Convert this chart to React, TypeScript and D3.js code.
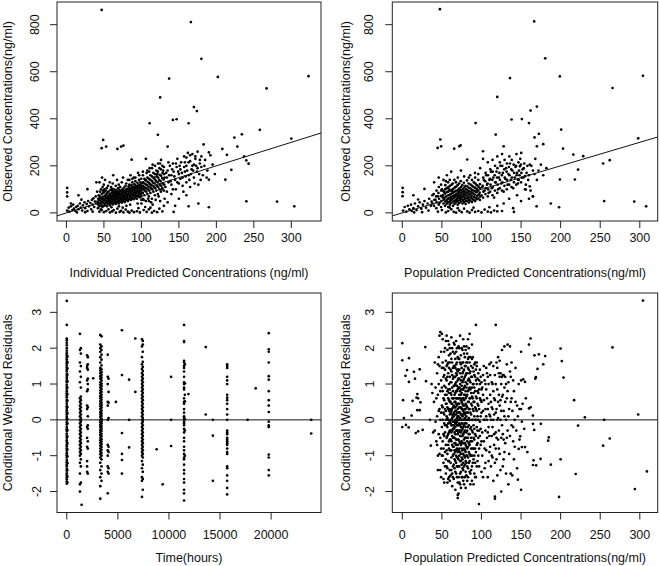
import React from 'react';
import * as d3 from 'd3';

type Pt = [number, number];

// ---------- tick labels ----------
const concTicks = [0, 50, 100, 150, 200, 250, 300];
const obsTicks = [0, 200, 400, 600, 800];
const timeTicks = [0, 5000, 10000, 15000, 20000];
const cwresTicks = [-2, -1, 0, 1, 2, 3];

// ---------- panel 1: IPRED vs observed ----------
const ipredObsOutliers: Pt[] = [
  [47,863],[166,811],[180,655],[202,578],[137,571],[323,581],[267,529],[125,491],[170,450],[174,433],
  [142,395],[147,398],[163,381],[111,381],[258,353],[234,334],[224,320],[300,316],[122,332],[135,282],
  [183,291],[208,272],[228,282],[214,247],[237,240],[240,223],[243,209],[190,257],[212,141],[220,183],
  [190,141],[240,49],[281,48],[304,28],[190,24],[176,40],[163,28],[143,4],[49,310],[53,282],[47,275],
  [68,272],[73,282],[76,286],[87,226],[1,106],[1,87],[1,70],[16,75],[28,101],[20,56],
  [160,235],[165,245],[172,240],[178,225],[168,200],[175,190],[158,215]
];
const ipredObsLow: Pt[] = [
  [1,10],[3,22],[4,5],[6,28],[8,12],[9,35],[10,18],[12,8],[13,25],[15,30],[16,15],[18,40],[19,22],
  [21,10],[22,32],[24,45],[25,20],[27,38],[28,8],[29,50],[30,28],[32,42],[33,15],[34,55],[35,35],
  [36,62],[37,25],[38,48],[39,70],[40,40],[41,90],[40,130],[35,5],[25,3],[14,2],[6,40]
];
const ipredObsBottom: Pt[] = [
  [44,5],[47,12],[50,3],[53,8],[56,15],[58,2],[61,6],[63,12],[66,1],[68,18],[71,4],[73,9],[76,2],
  [79,14],[82,5],[84,1],[87,10],[90,3],[94,7],[98,2],[103,12],[107,4],[110,15],[114,1],[117,8],
  [121,3],[124,18],[128,6],[112,22],[96,20],[75,22],[60,24]
];
const ipredObsCore: Pt[] = [
  [42,20],[42.6,35],[41.5,48],[42.3,60],[43,75],
  [44,28],[44.7,42],[43.8,55],[44.4,70],[45,90],[44.2,130],
  [46,15],[46.5,38],[45.7,50],[46.3,62],[47,80],[46.1,100],
  [48,25],[48.6,45],[47.7,58],[48.3,68],[49,85],[48.2,110],[47.5,150],
  [50,30],[50.5,40],[49.6,52],[50.3,60],[51,72],[50.1,88],[50.7,100],[49.8,120],
  [52,35],[52.6,47],[51.7,56],[52.4,65],[53,78],[52.2,95],[51.5,140],
  [54,28],[54.5,42],[53.6,50],[54.3,62],[55,70],[54.2,84],[53.8,105],
  [56,38],[56.6,48],[55.7,55],[56.4,66],[57,75],[56.2,90],[55.5,115],
  [58,32],[58.5,44],[57.6,53],[58.3,60],[59,70],[58.1,80],[58.7,98],[57.8,130],
  [60,40],[60.6,50],[59.7,58],[60.4,65],[61,74],[60.2,85],[60.8,95],[59.5,110],
  [62,36],[62.5,46],[61.6,55],[62.3,63],[63,72],[62.1,82],[62.7,92],[61.8,125],[62.4,160],
  [64,42],[64.6,52],[63.7,60],[64.4,68],[65,78],[64.2,88],[63.9,100],
  [66,38],[66.5,48],[65.6,57],[66.3,66],[67,75],[66.1,84],[66.8,96],[65.8,115],
  [68,45],[68.6,55],[67.7,62],[68.4,70],[69,80],[68.2,90],[68.8,105],[67.5,140],
  [70,40],[70.5,50],[69.6,60],[70.3,68],[71,76],[70.1,86],[70.7,98],[69.8,120],
  [72,48],[72.6,58],[71.7,65],[72.4,74],[73,82],[72.2,92],[71.8,110],
  [74,44],[74.5,54],[73.6,63],[74.3,72],[75,80],[74.1,90],[74.7,100],[73.8,130],
  [76,50],[76.6,60],[75.7,70],[76.4,78],[77,88],[76.2,96],[76.8,108],[75.5,150],
  [78,46],[78.5,56],[77.6,66],[78.3,75],[79,85],[78.1,95],[78.7,115],
  [80,55],[80.6,64],[79.7,72],[80.4,82],[81,92],[80.2,102],[79.8,125],
  [82,50],[82.5,60],[81.6,70],[82.3,80],[83,90],[82.1,100],[82.7,112],[81.8,140],
  [84,58],[84.6,68],[83.7,78],[84.4,88],[85,98],[84.2,108],[83.9,120],
  [86,55],[86.5,65],[85.6,75],[86.3,85],[87,95],[86.1,105],[86.8,118],[85.5,160],
  [88,62],[88.6,72],[87.7,82],[88.4,92],[89,102],[88.2,112],[87.8,130],
  [90,58],[90.5,70],[89.6,80],[90.3,90],[91,100],[90.1,110],[90.7,122],[89.8,150],
  [92,65],[92.6,76],[91.7,86],[92.4,96],[93,106],[92.2,116],[91.9,135],
  [94,60],[94.5,72],[93.6,84],[94.3,94],[95,104],[94.1,114],[94.7,128],
  [96,70],[96.6,80],[95.7,90],[96.4,100],[97,110],[96.2,120],[96.8,140],[95.5,170],
  [98,66],[98.5,78],[97.6,88],[98.3,98],[99,108],[98.1,118],[98.7,130],
  [100,72],[100.6,84],[99.7,94],[100.4,104],[101,114],[100.2,125],[99.8,145]
];
const ipredObsUpper: Pt[] = [
  [102,60],[102,85],[102.5,100],[101.8,115],[102.3,130],[102,160],
  [104,75],[104.4,95],[103.7,110],[104.2,125],[104,145],
  [106,50],[106.5,90],[105.6,105],[106.2,120],[106,138],[106,230],
  [108,80],[108.4,100],[107.7,118],[108.3,132],[108,150],
  [110,70],[110.5,95],[109.6,112],[110.2,128],[110,145],[110.4,175],
  [112,85],[112.4,105],[111.7,122],[112.2,140],[112,160],
  [114,60],[114.5,100],[113.6,118],[114.3,135],[114,155],[114.2,190],
  [116,90],[116.4,110],[115.7,128],[116.2,148],[116,170],
  [118,75],[118.5,105],[117.6,125],[118.3,142],[118,165],[118.2,200],
  [120,95],[120.4,115],[119.7,135],[120.2,155],[120,180],
  [122,80],[122.5,110],[121.6,130],[122.3,150],[122,175],[122.2,210],
  [124,100],[124.4,120],[123.7,140],[124.2,162],[124,190],
  [126,90],[126.5,115],[125.6,135],[126.3,158],[126,185],[126.2,225],
  [128,105],[128.4,125],[127.7,148],[128.2,170],[128,200],
  [130,95],[130.5,120],[129.6,142],[130.3,165],[130,195],
  [132,110],[134,150],[135,180],[136,130],[138,200],[140,160],[140,120],[142,210],[143,175],[145,140],
  [146,100],[147,195],[148,230],[150,165],[150,125],[152,185],[153,215],[155,150],[156,90],[157,240],
  [158,175],[160,200],[160,130],[162,255],[163,160],[165,220],[165,110],[167,185],[168,250],[170,205],
  [170,150],[172,230],[174,175],[175,260],[176,120],[178,210],[180,195],[180,240],[182,160],[185,225],
  [188,180],[192,245],[195,205],[198,165],[140,80],[150,60],[160,75],[135,45],[145,30],[125,50],[130,30]
];
const ipredObsExtra: Pt[] = [
  [100,40],[103,55],[105,140],[107,170],[109,60],[111,190],[113,45],[115,205],[117,150],[119,55],
  [121,165],[123,70],[125,210],[127,100],[129,180],[131,60],[131,150],[133,170],[134,90],[136,215],
  [137,160],[139,135],[141,185],[142,100],[144,155],[146,210],[148,130],[149,175],[151,200],[152,145],
  [154,170],[155,115],[157,195],[159,155],[161,180],[163,215],[164,140],[166,165],[169,180],[171,125],
  [173,200],[177,165],[179,140],[184,200],[187,150],[105,25],[115,35],[95,40],[85,35],[80,30],[70,28],
  [100,55],[110,50],[92,150],[102,175],[108,180],[97,160],[88,145],[84,140],
  [43,40],[45,65],[47,30],[49,95],[51,58],[53,45],[55,88],[57,62],[59,48],[61,102],[63,56],[65,90]
];

// ---------- panel 2: PRED vs observed ----------
const predObsOutliers: Pt[] = [
  [47.5,866],[166.6,814],[180.5,657],[199,580],[136,573],[304,583],[265.5,531],[120,493],[170,452],[162,435],
  [138,397],[151,399],[160,382],[92.6,382],[200.7,354],[172.5,336],[167,321],[298,317],[118,333],[128,283],
  [178,292],[203,273],[170,283],[216,248],[228.5,241],[262,224],[253.7,210],[222,184],[218,142],[199,142],
  [255,50],[293,48],[308,28],[198,24],[187.6,40],[169.6,28],[141,4],[48,312],[49,283],[44.6,276],
  [65.6,273],[72,283],[73.6,287],[82,227],[0.5,106],[0.5,88],[0.3,71],[14,75],[28,102],[20,57],
  [161,113],[165,70],[156,99],[146,142],[155,156],[161,205],[148.5,198],[102,262]
];
const predObsLow: Pt[] = [
  [1,10],[3,25],[5,5],[7,30],[9,15],[11,35],[12,8],[14,20],[16,40],[18,12],[20,28],[22,45],[24,18],
  [26,35],[28,50],[30,22],[32,40],[34,60],[36,30],[38,75],[37,48],[33,10],[25,3],[15,2]
];
const predObsBottom: Pt[] = [
  [45,5],[50,12],[55,2],[58,8],[62,15],[65,4],[68,1],[72,10],[75,3],[78,18],[82,6],[85,1],[88,12],
  [92,4],[96,8],[100,2],[104,14],[108,5],[112,2],[116,10],[120,6],[60,22],[70,20],[90,22],[110,24],[126,8]
];
const predObsCore: Pt[] = [
  [40,30],[40.5,55],[39.6,80],[40.2,130],
  [43,20],[43.4,45],[42.7,70],[43.2,95],
  [46,35],[46.5,60],[45.6,85],[46.2,110],[46,150],
  [49,25],[49.4,50],[48.7,72],[49.2,95],[49,120],
  [52,40],[52.5,58],[51.6,76],[52.2,92],[52,140],
  [54,30],[54.4,48],[53.7,65],[54.2,82],[54,100],[54.3,118],
  [56,38],[56.5,55],[55.6,70],[56.2,88],[56,105],[56.3,160],
  [58,25],[58.4,45],[57.7,60],[58.2,75],[58,90],[58.3,110],[57.8,130],
  [60,35],[60.5,50],[59.6,64],[60.2,78],[60,95],[60.3,115],
  [62,42],[62.4,56],[61.7,68],[62.2,82],[62,98],[62.3,120],[61.8,175],
  [64,30],[64.5,48],[63.6,60],[64.2,72],[64,86],[64.3,102],[63.8,125],
  [66,38],[66.4,52],[65.7,65],[66.2,76],[66,90],[66.3,108],[65.8,140],
  [68,45],[68.5,58],[67.6,70],[68.2,80],[68,94],[68.3,112],[67.8,130],
  [70,35],[70.4,50],[69.7,62],[70.2,74],[70,85],[70.3,98],[69.8,118],[70.1,150],
  [72,42],[72.5,55],[71.6,67],[72.2,78],[72,90],[72.3,104],[71.8,125],
  [74,48],[74.4,60],[73.7,72],[74.2,84],[74,96],[74.3,110],[73.8,135],[74.1,180],
  [76,40],[76.5,53],[75.6,65],[76.2,76],[76,88],[76.3,100],[75.8,118],
  [78,46],[78.4,58],[77.7,70],[78.2,82],[78,94],[78.3,108],[77.8,128],[78.1,155],
  [80,38],[80.5,52],[79.6,64],[80.2,75],[80,87],[80.3,100],[79.8,115],
  [82,50],[82.4,62],[81.7,74],[82.2,86],[82,98],[82.3,112],[81.8,138],
  [84,44],[84.5,56],[83.6,68],[84.2,80],[84,92],[84.3,106],[83.8,125],
  [86,52],[86.4,65],[85.7,78],[86.2,90],[86,104],[86.3,120],[85.8,160],
  [88,46],[88.5,60],[87.6,72],[88.2,85],[88,98],[88.3,115],
  [90,55],[90.4,68],[89.7,82],[90.2,95],[90,110],[90.3,130],
  [92,50],[92.5,64],[91.6,78],[92.2,92],[92,106],[92.3,125],[91.8,170],
  [94,58],[94.4,72],[93.7,88],[94.2,102],[94,118],
  [96,62],[96.5,78],[95.6,95],[96.2,112],[96,140],
  [98,55],[98.4,70],[97.7,86],[98.2,104],[98,122],[98.3,190]
];
const predObsUpper: Pt[] = [
  [102,65],[102.4,90],[101.7,115],[102.2,150],[102,230],
  [105,80],[105.4,105],[104.7,135],[105.2,170],
  [108,70],[108.4,100],[107.7,125],[108.2,160],[108,215],
  [111,90],[111.4,120],[110.7,145],[111.2,185],
  [114,75],[114.4,110],[113.7,140],[114.2,175],[114,225],
  [117,95],[117.4,130],[116.7,160],[117.2,200],
  [120,85],[120.4,120],[119.7,150],[120.2,190],[120,240],
  [123,105],[123.4,140],[122.7,170],[123.2,215],
  [126,95],[126.4,130],[125.7,160],[126.2,200],[126,250],
  [129,115],[129.4,150],[128.7,185],[129.2,225],
  [132,100],[132.4,140],[131.7,175],[132.2,210],
  [135,120],[135.4,160],[134.7,195],[135.2,240],
  [138,110],[138.4,150],[137.7,185],[138.2,225],
  [141,130],[141.4,170],[140.7,205],
  [144,120],[144.4,160],[143.7,200],[144.2,250],
  [147,140],[147.4,180],[146.7,215],
  [150,130],[150.4,170],[149.7,205],[150.2,255],
  [153,150],[153.4,190],
  [156,120],[158,200],[160,160],[162,95],[165,180],[168,230],[170,140],[175,205],[178,160],[182,190],
  [160,60],[165,70],[155,100],[145,75],[150,50],[135,60],[128,40],[140,20],[120,30]
];
const predObsExtra: Pt[] = [
  [100,75],[101,110],[103,140],[104,95],[106,160],[107,120],[109,85],[110,140],[112,175],[113,105],
  [115,150],[116,65],[118,130],[119,175],[121,100],[122,150],[124,200],[125,125],[127,170],[128,90],
  [130,145],[131,190],[133,120],[134,165],[136,210],[137,140],[139,180],[140,105],[142,150],[143,195],
  [145,170],[146,125],[148,160],[149,230],[151,150],[152,185],[154,210],[157,170],[159,140],[163,200],
  [167,165],[172,180],[96,165],[92,150],[88,140],[84,150],[60,140],[55,135],[50,100],[45,70],[42,55],[38,40],
  [47,42],[51,66],[53,88],[57,47],[59,100],[61,58],[63,92],[65,70],[67,110],[69,55],[71,95],[73,64]
];

// ---------- panel 3: time vs CWRES (observations grouped by sampling time) ----------
const timeGroups: { time: number; cwres: number[] }[] = [
  { time: 0, cwres: [-1.78,-1.72,-1.66,-1.61,-1.55,-1.49,-1.42,-1.37,-1.3,-1.25,-1.18,-1.12,-1.05,-0.99,-0.93,-0.86,-0.8,-0.74,-0.69,-0.62,-0.57,-0.5,-0.44,-0.38,-0.31,-0.26,-0.2,-0.13,-0.07,0,0.04,0.09,0.15,0.21,0.27,0.33,0.38,0.45,0.51,0.56,0.63,0.69,0.74,0.8,0.87,0.92,0.98,1.05,1.1,1.17,1.23,1.28,1.35,1.4,1.46,1.52,1.58,1.63,1.69,1.74,1.8,1.86,1.93,2.0,2.08,2.15,2.22,2.27,2.65,3.32] },
  { time: 60, cwres: [-1.75,-1.58,-1.4,-1.21,-1.02,-0.83,-0.65,-0.47,-0.29,-0.1,0.02,0.18,0.36,0.54,0.72,0.9,1.08,1.26,1.44,1.61,1.77] },
  { time: 1290, cwres: [2.4,1.95,1.6,1.35,1.05,0.6,0.5,0.4,0.3,0.2,0.1,0,-0.1,-0.2,-0.3,-0.4,-0.5,-0.6,-0.7,-0.8,-0.9,-1.0,-1.2,-1.5,-1.8,-2.0] },
  { time: 1380, cwres: [2.0,1.85,1.5,1.2,0.9,0.65,0.55,0.45,0.35,0.25,0.15,0.05,0,-0.05,-0.15,-0.25,-0.35,-0.45,-0.55,-0.65,-0.75,-0.85,-0.95,-1.1,-1.3,-1.75] },
  { time: 1450, cwres: [-2.37] },
  { time: 1990, cwres: [1.8,1.5,1.45,1.1,0.8,0.4,0.3,-0.2,-0.5,-0.75,-1.15,-1.3,-1.45] },
  { time: 2060, cwres: [1.75,1.55,1.4,1.15,1.0,0.85,0.35,0.1,-0.15,-0.25,-0.6,-0.8,-1.5] },
  { time: 2590, cwres: [1.16] },
  { time: 3280, cwres: [2.37,2.1,2.0,1.9,1.75,1.6,1.45,1.38,1.3,1.22,1.15,1.05,0.98,0.9,0.82,0.74,0.66,0.6,0.52,0.45,0.38,0.3,0.22,0.15,0.08,0,-0.07,-0.14,-0.2,-0.28,-0.35,-0.42,-0.5,-0.57,-0.64,-0.72,-0.8,-0.88,-0.96,-1.05,-1.2,-1.4,-1.6,-1.85,-2.2] },
  { time: 3400, cwres: [2.33,2.05,1.95,1.82,1.68,1.52,1.41,1.33,1.25,1.18,1.1,1.01,0.94,0.86,0.78,0.7,0.63,0.56,0.48,0.41,0.34,0.26,0.18,0.11,0.03,0,-0.04,-0.1,-0.17,-0.24,-0.31,-0.39,-0.46,-0.54,-0.61,-0.68,-0.76,-0.84,-0.92,-1.0,-1.1,-1.3,-1.5,-1.7] },
  { time: 4010, cwres: [1.82,1.2,1.0,0.5,0.4,0,-0.7,-0.85,-1.0,-1.3,-1.45,-2.05] },
  { time: 4090, cwres: [1.15,0.78,0.48,0.05,-0.75,-0.9,-1.35,-1.5] },
  { time: 4810, cwres: [0.5] },
  { time: 5400, cwres: [2.5,1.25,-0.37,-0.95,-1.12,-1.5] },
  { time: 6100, cwres: [1.12,0,-0.77] },
  { time: 6710, cwres: [2.27,0.78] },
  { time: 7360, cwres: [2.25,2.05,1.75,1.55,1.42,1.3,1.2,1.1,1.0,0.9,0.8,0.7,0.6,0.5,0.4,0.3,0.2,0.1,0,-0.1,-0.2,-0.3,-0.4,-0.5,-0.6,-0.7,-0.8,-0.9,-1.0,-1.15,-1.35,-1.6,-1.7,-2.15] },
  { time: 7440, cwres: [2.2,2.1,1.9,1.62,1.48,1.36,1.25,1.15,1.05,0.95,0.85,0.75,0.65,0.55,0.45,0.35,0.25,0.15,0.05,0,-0.05,-0.15,-0.25,-0.35,-0.45,-0.55,-0.65,-0.75,-0.85,-0.95,-1.05,-1.25,-1.45,-1.65,-1.95] },
  { time: 8800, cwres: [-0.82] },
  { time: 9390, cwres: [-1.8] },
  { time: 10210, cwres: [1.2,0,-0.73] },
  { time: 11480, cwres: [2.65,2.2,2.17,1.65,1.6,1.5,1.45,1.35,1.2,1.05,1.0,0.9,0.85,0.6,0.5,0.45,0.3,0.2,0.1,0.05,0,-0.05,-0.1,-0.15,-0.25,-0.35,-0.5,-0.6,-0.75,-0.85,-0.95,-1.05,-1.1,-1.25,-1.4,-1.5,-1.65,-1.75,-1.95,-2.05,-2.25] },
  { time: 11560, cwres: [1.55,1.02,0.7,0.52,0.02,-0.3,-1.0] },
  { time: 11910, cwres: [0.72] },
  { time: 13600, cwres: [2.03,0.15] },
  { time: 14300, cwres: [0,-0.44,-1.7] },
  { time: 15700, cwres: [1.55,1.5,1.45,1.2,1.1,1.0,0.7,0.62,0.55,0.45,0.3,0.15,0,-0.3,-0.35,-0.4,-0.5,-0.55,-0.6,-0.65,-0.7,-0.8,-0.9,-0.95,-1.3,-1.35,-1.55,-1.7,-1.9,-2.08] },
  { time: 17700, cwres: [0] },
  { time: 18490, cwres: [0.88] },
  { time: 19770, cwres: [2.42,1.97,1.9,1.6,1.22,1.12,0.8,0.55,0.4,0.22,-0.05,-0.15,-0.2,-0.97,-1.05,-1.4,-1.55] },
  { time: 23926, cwres: [0,-0.38] }
];

// ---------- panel 4: PRED vs CWRES ----------
const predCwresEdge: Pt[] = [
  [304,3.33],[309,-1.44],[293.7,-1.93],[298,0.15],[265.5,2.02],[262,-0.52],[253.7,-0.72],[255,0],[230.6,0.07],
  [222,-0.16],[217,0.55],[219,-1.51],[199.9,1.99],[201.5,1.64],[203.6,1.18],[200,-1.1],[198,-2.15],[187.6,-1.25],
  [185,-0.49],[184.3,-0.58],[180.5,1.78],[178,1.55],[172.5,1.83],[170.8,1.42],[168.7,1.19],[167,1.8],[162,2.27],
  [160,2.1],[165,-0.11],[166.6,-0.28],[165,0.12],[175,-0.11],[174.6,-1.09],[165.8,-1.13],[169,-1.27],[165,-1.26],
  [150,1.9],[152.7,1.13],[155,1.06],[150,-1.95],[155,-0.76],[151,-0.76],[147,-0.81],[149,-0.46],[146,-1.67],
  [160,0.32],[118,2.65],[93,2.65],[117,-2.14],[96.8,-2.35],[70,-2.18],[71,-2.06],
  [0,2.14],[0,1.66],[29,2.03],[30,1.08],[8.4,1.72],[4,1.23],[6,1.39],[8.4,1.06],[14.7,1.34],[16,1.15],[22,1.41],
  [1,0.55],[0,-0.2],[2,0.05],[4.6,-0.14],[8,-0.21],[11.8,0.12],[13,0.53],[18,0.62],[19,0.72],[20,0.6],[23,0.49],
  [19,0.27],[22,0.27],[20,-0.32],[17,-0.37],[25.7,-0.28],[35,0],[36,-0.72],[38,0.75],[39,-0.35],[37,1.0]
];
const predCwresCore: Pt[] = [
  [40,0.5],[41,-0.3],[42,0.9],[43,-0.6],[44,1.3],[44,0.1],[45,-1.0],[45,0.7],[46,1.75],[46,-0.4],[47,0.3],[47,1.5],
  [48,-1.4],[48,2.45],[48,0.0],[49,1.1],[49,-0.8],[50,2.4],[50,0.4],[50,-0.2],[42,-0.05],[43,0.6],[46,1.0],[49,0.2],[41,1.6],
  [51,1.6],[51,-0.6],[51,0.8],[52,-1.2],[52,0.2],[52,1.2],[53,-0.1],[53,-1.75],[53,0.55],[53,1.9],[54,-0.9],[54,0.3],
  [54,1.4],[54,-0.35],[55,0.0],[55,-1.5],[55,0.9],[55,1.65],[51,0.0],[52,-0.4],[53,0.95],[54,2.0],[55,-0.7],[52,0.6],
  [51,-1.0],[53,0.15],[54,-0.15],[55,0.45],[52,1.45],[55,-1.1],
  [56,0.1],[56,-0.5],[56,1.1],[56,-1.3],[56,2.35],[57,0.35],[57,-0.2],[57,0.8],[57,-0.95],[57,1.55],[58,0.0],[58,-0.7],
  [58,0.6],[58,1.3],[58,-1.65],[58,2.2],[59,0.25],[59,-0.35],[59,1.0],[59,-1.15],[59,1.8],[60,-0.05],[60,0.5],[60,-0.55],
  [60,1.2],[60,-1.4],[60,2.0],[56,0.7],[57,-1.75],[58,0.3],[59,-0.8],[60,0.85],[56,-0.15],[57,0.05],[58,-0.1],[59,0.55],
  [60,0.15],[58,1.6],[59,-1.6],[57,1.95],
  [61,0.2],[61,-0.3],[61,0.75],[61,-0.85],[61,1.4],[61,-1.2],[62,0.0],[62,0.45],[62,-0.6],[62,1.05],[62,-1.05],[62,1.7],
  [62,2.3],[63,0.3],[63,-0.15],[63,0.9],[63,-0.45],[63,-1.5],[63,1.25],[63,-1.85],[64,0.1],[64,-0.25],[64,0.6],[64,-0.75],
  [64,1.15],[64,-1.3],[64,1.9],[65,-0.05],[65,0.4],[65,-0.5],[65,0.95],[65,-0.95],[65,1.5],[65,-1.65],[65,2.15],[61,0.0],
  [62,0.25],[63,0.05],[64,0.35],[65,0.2],[61,-0.1],[62,-0.35],[63,0.6],[64,-0.05],[65,-0.25],
  [66,0.15],[66,-0.2],[66,0.7],[66,-0.65],[66,1.2],[66,-1.1],[66,1.85],[67,0.0],[67,0.5],[67,-0.4],[67,1.0],[67,-0.9],
  [67,1.45],[67,-1.45],[67,-1.95],[68,0.25],[68,-0.1],[68,0.8],[68,-0.55],[68,1.3],[68,-1.2],[68,2.2],[69,0.05],[69,0.4],
  [69,-0.3],[69,0.95],[69,-0.8],[69,1.6],[69,-1.6],[70,0.1],[70,-0.15],[70,0.6],[70,-0.7],[70,1.1],[70,-1.05],[70,1.75],
  [70,-2.1],[66,0.35],[67,0.25],[68,0.0],[69,-0.05],[70,0.3],[66,-0.35],[67,-0.2],[68,0.45],[69,0.2],[70,-0.4],[68,-0.85],
  [67,0.75],[69,1.25],
  [71,0.0],[71,0.45],[71,-0.35],[71,0.9],[71,-0.85],[71,1.4],[71,-1.3],[71,2.05],[72,0.2],[72,-0.1],[72,0.7],[72,-0.6],
  [72,1.15],[72,-1.0],[72,1.7],[72,-1.75],[73,0.05],[73,0.35],[73,-0.45],[73,1.0],[73,-0.9],[73,1.3],[73,-1.5],[73,2.35],
  [74,0.15],[74,-0.2],[74,0.55],[74,-0.7],[74,0.85],[74,-1.15],[74,1.55],[74,-1.9],[75,0.0],[75,0.3],[75,-0.3],[75,0.75],
  [75,-0.8],[75,1.2],[75,-1.25],[75,2.0],[71,0.2],[72,0.0],[73,-0.15],[74,0.35],[75,-0.1],[71,-0.15],[72,0.45],[73,0.6],
  [74,-0.45],[75,0.5],
  [76,0.1],[76,-0.25],[76,0.6],[76,-0.65],[76,1.05],[76,-1.1],[76,1.6],[76,-1.6],[77,0.0],[77,0.4],[77,-0.4],[77,0.85],
  [77,-0.95],[77,1.35],[77,-1.4],[77,2.25],[78,0.2],[78,-0.15],[78,0.7],[78,-0.55],[78,1.15],[78,-1.0],[78,1.85],[78,-1.8],
  [79,0.05],[79,0.3],[79,-0.3],[79,0.95],[79,-0.85],[79,1.5],[79,-1.25],[80,0.0],[80,0.45],[80,-0.5],[80,0.8],[80,-0.9],
  [80,1.25],[80,-1.45],[80,1.95],[76,0.3],[77,0.15],[78,0.0],[79,-0.1],[80,0.2],[78,0.4],
  [81,0.1],[81,-0.35],[81,0.65],[81,-0.75],[81,1.3],[81,-1.2],[82,0.0],[82,0.35],[82,-0.6],[82,1.0],[82,-1.0],[82,1.6],
  [82,-1.7],[83,0.2],[83,-0.2],[83,0.8],[83,-0.5],[83,1.45],[83,-1.35],[83,2.25],[84,0.05],[84,0.5],[84,-0.4],[84,1.15],
  [84,-0.9],[84,1.75],[85,0.0],[85,0.3],[85,-0.7],[85,0.9],[85,-1.15],[85,1.3],[85,2.4],[86,-0.25],[86,0.6],[86,-1.5],[86,1.05],
  [87,0.15],[87,-0.5],[87,1.2],[87,-1.0],[88,0.4],[88,-0.3],[88,0.9],[88,-1.3],[88,1.7],[88,2.1],[89,0.0],[89,-0.8],
  [89,0.6],[89,1.45],[90,0.25],[90,-0.15],[90,1.0],[90,-1.1],[90,-1.8],[91,0.5],[91,-0.55],[91,1.25],[92,0.0],[92,-0.4],
  [92,0.8],[92,1.6],[92,-1.6],[93,0.3],[93,-0.9],[93,1.1],[94,-0.2],[94,0.6],[94,1.5],[94,-1.3],[95,0.1],[95,-0.65],
  [95,1.15],[96,0.4],[96,-1.0],[97,-0.3],[97,0.85],[98,1.4],[98,-0.05],[99,0.55],[99,-0.7],[100,0.2],[100,-1.45],[100,1.05]
];
const predCwresExtra: Pt[] = [
  [44,-0.7],[45,1.55],[45,-1.4],[46,0.25],[47,-0.95],[47,2.35],[48,0.8],[48,-0.5],[49,-1.6],[49,1.9],[50,0.9],[50,-1.0],[50,1.45],
  [51,0.35],[51,2.25],[52,-0.8],[52,-1.65],[53,1.25],[53,-0.45],[54,0.7],[54,-1.3],[55,0.25],[55,1.15],[55,2.2],
  [56,0.45],[56,-0.85],[56,1.5],[57,-0.45],[57,1.2],[57,-1.35],[58,0.85],[58,-0.4],[58,-1.15],[59,0.75],[59,-0.6],[59,1.45],[59,2.1],
  [60,0.3],[60,-0.3],[60,-0.85],[60,1.6],[60,-1.7],
  [61,0.5],[61,-0.55],[61,1.05],[61,1.85],[61,-1.55],[62,0.7],[62,-0.15],[62,-0.85],[62,1.35],[62,-1.4],
  [63,0.15],[63,-0.3],[63,0.45],[63,-0.7],[63,1.6],[63,2.0],[64,0.8],[64,-0.5],[64,-1.0],[64,1.45],[64,-1.6],
  [65,0.6],[65,-0.15],[65,0.1],[65,-0.75],[65,1.2],[65,-1.25],
  [66,0.5],[66,-0.05],[66,-0.5],[66,0.95],[66,-0.85],[66,1.5],[66,-1.35],[66,2.1],
  [67,0.35],[67,-0.1],[67,-0.65],[67,1.2],[67,-1.15],[67,1.7],
  [68,0.6],[68,0.15],[68,-0.3],[68,-0.7],[68,1.05],[68,-1.0],[68,1.55],[68,-1.5],[68,1.9],
  [69,0.6],[69,-0.15],[69,-0.55],[69,0.8],[69,-1.05],[69,1.4],[69,-1.3],[69,2.0],
  [70,0.45],[70,0.0],[70,-0.3],[70,0.85],[70,-0.9],[70,1.35],[70,-1.3],[70,-1.75],
  [71,0.6],[71,0.1],[71,-0.55],[71,1.15],[71,-1.1],[71,1.7],[71,-1.6],
  [72,0.35],[72,-0.3],[72,0.9],[72,-0.8],[72,1.4],[72,-1.3],[72,2.0],
  [73,0.2],[73,-0.3],[73,0.8],[73,-0.65],[73,1.6],[73,-1.15],[73,-1.8],
  [74,0.0],[74,0.7],[74,-0.35],[74,1.1],[74,-0.95],[74,1.8],[74,-1.45],
  [75,0.15],[75,-0.45],[75,0.95],[75,-0.6],[75,1.45],[75,-1.05],[75,-1.6],
  [76,0.45],[76,-0.1],[76,0.85],[76,-0.45],[76,1.3],[76,-0.85],[76,1.95],[76,-1.35],
  [77,0.25],[77,-0.2],[77,0.6],[77,-0.65],[77,1.1],[77,-1.2],[77,1.6],[77,-1.7],
  [78,0.55],[78,-0.35],[78,0.9],[78,-0.8],[78,1.4],[78,-1.3],[78,2.05],
  [79,0.15],[79,-0.5],[79,0.7],[79,-0.65],[79,1.2],[79,-1.05],[79,1.75],[79,-1.6],
  [80,0.3],[80,-0.2],[80,0.6],[80,-0.7],[80,1.05],[80,-1.15],[80,1.5],[80,-1.9],
  [81,0.4],[81,-0.1],[81,0.9],[81,-0.5],[81,1.6],[81,-1.0],[81,-1.55],[81,2.05],
  [82,0.2],[82,-0.3],[82,0.7],[82,-0.8],[82,1.3],[82,-1.3],[82,1.85],
  [83,0.0],[83,0.5],[83,-0.75],[83,1.1],[83,-1.05],[83,1.7],[83,-1.6],
  [84,0.3],[84,-0.15],[84,0.85],[84,-0.65],[84,1.4],[84,-1.2],[84,2.0],
  [85,0.6],[85,-0.4],[85,1.1],[85,-0.95],[85,1.6],[85,-1.45],
  [86,0.2],[86,-0.6],[86,0.85],[86,-1.0],[86,1.35],[86,1.75],[86,-1.8],
  [87,0.45],[87,-0.2],[87,0.75],[87,-0.8],[87,1.5],[87,-1.4],
  [88,0.0],[88,0.65],[88,-0.6],[88,1.2],[88,-1.0],[88,-1.7],
  [89,0.3],[89,-0.35],[89,1.0],[89,-1.2],[89,1.75],
  [90,0.5],[90,-0.5],[90,0.75],[90,1.35],[90,-0.8],
  [91,0.1],[91,-0.25],[91,0.9],[91,-1.0],[91,1.55],[91,-1.5],
  [92,0.35],[92,-0.8],[92,1.2],[92,-1.2],
  [93,0.0],[93,0.65],[93,-0.45],[93,1.4],[93,-1.6],
  [94,0.25],[94,-0.7],[94,1.0],[94,1.6],
  [95,0.45],[95,-0.3],[95,0.8],[95,-1.15],
  [96,0.0],[96,0.75],[96,-0.5],[96,1.3],
  [97,0.3],[97,-0.8],[97,1.1],[97,-1.3],
  [98,0.6],[98,-0.45],[98,1.0],
  [99,0.1],[99,-0.25],[99,1.2],
  [100,0.5],[100,-0.6],[100,0.85]
];
const predCwresUpper: Pt[] = [
  [101,-0.35],[102,0.7],[102,-1.6],[103,1.5],[103,0.0],[104,-0.8],[104,1.1],[105,0.3],[105,-1.2],[106,0.85],[106,1.45],
  [107,-0.5],[107,0.0],[108,1.2],[108,-1.6],[109,0.45],[109,-0.2],[110,1.55],[110,-0.9],[111,0.1],[111,0.7],[112,-1.3],
  [112,1.6],[113,-0.45],[113,0.35],[114,1.0],[114,-1.05],[115,0.0],[115,-1.7],[116,0.6],[116,-0.7],[117,1.25],[117,-2.2],
  [118,0.2],[118,-0.35],[119,1.6],[119,-1.1],[120,0.0],[120,0.85],[121,-0.55],[121,1.75],[122,1.3],[122,-0.8],[123,0.4],
  [123,1.2],[124,-1.4],[124,0.0],[125,-2.0],[125,1.0],[126,0.65],[126,1.95],[127,-0.4],[127,1.25],[128,0.25],[128,-1.1],
  [129,2.05],[129,0.9],[130,-0.65],[130,1.2],[131,0.0],[131,-1.5],[132,0.6],[132,1.55],[133,-0.3],[133,2.1],[134,1.05],
  [134,-1.8],[135,0.3],[135,-0.95],[136,2.05],[136,1.35],[137,-1.5],[137,0.5],[138,1.6],[138,-0.15],[139,0.25],[139,-1.55],
  [140,1.1],[140,-0.6],[141,0.8],[141,-1.1],[142,0.0],[143,1.45],[144,-0.3],[145,0.4],[145,-1.35],[147,1.0],[148,0.3],
  [150,1.1],[152,0.45],[151,-0.05],
  [101,0.9],[101,-1.0],[102,0.25],[102,1.25],[103,-0.6],[103,0.55],[104,0.0],[104,-1.35],[105,1.0],[105,-0.3],[106,0.1],
  [106,-0.85],[107,0.6],[107,1.3],[108,-0.35],[108,0.3],[109,1.0],[109,-1.15],[110,0.15],[110,-0.45],[111,1.25],[111,-0.75],
  [112,0.5],[112,0.0],[113,-1.0],[113,1.05],[114,0.3],[114,-0.2],[115,0.8],[115,1.5],[116,-0.4],[116,0.15],[117,-1.2],
  [117,0.55],[118,1.0],[118,-0.8],[119,0.3],[119,-0.5],[120,1.45],[120,-1.55],[121,0.5],[121,0.05],[122,-0.3],[122,0.7],
  [123,-0.95],[123,1.65],[124,0.55],[124,1.3],[125,-0.5],[125,0.25],[126,-0.15],[126,1.2],[127,0.7],[127,-1.3],[128,1.25],
  [128,-0.55],[129,0.1],[129,-0.9],[130,0.5],[131,1.0],[132,-0.5],[133,0.8],[134,0.1],[136,-0.45],[137,1.2],[138,0.6],
  [140,-0.2],[142,-0.75],[143,0.5],[146,0.1],[148,-0.55],[150,0.3],[154,-0.25],[156,0.6],[158,-0.9],[162,0.35],[168,1.15]
];

const ipredObs: Pt[] = [...ipredObsOutliers, ...ipredObsLow, ...ipredObsBottom, ...ipredObsCore, ...ipredObsUpper, ...ipredObsExtra];
const predObs: Pt[] = [...predObsOutliers, ...predObsLow, ...predObsBottom, ...predObsCore, ...predObsUpper, ...predObsExtra];
const timeCwres: Pt[] = timeGroups.flatMap(g => g.cwres.map(r => [g.time, r] as Pt));
const predCwres: Pt[] = [...predCwresEdge, ...predCwresCore, ...predCwresExtra, ...predCwresUpper];

const FONT = '"Liberation Sans", Arial, Helvetica, sans-serif';
const FS = 12.5;

interface PanelSpec {
  id: string;
  left: number; right: number; top: number; bottom: number;
  xDomain: [number, number]; yDomain: [number, number];
  xTicks: number[]; yTicks: number[];
  xLabel: string; yLabel: string;
  points: Pt[];
  ref: 'identity' | 'zero';
  xTickLabelY: number; xTitleY: number; yTickLabelX: number; yTitleX: number;
}

function Panel({ s }: { s: PanelSpec }) {
  const x = d3.scaleLinear().domain(s.xDomain).range([s.left, s.right]);
  const y = d3.scaleLinear().domain(s.yDomain).range([s.bottom, s.top]);
  const line = d3.line<Pt>().x(d => x(d[0])).y(d => y(d[1]));
  const refPts: Pt[] = s.ref === 'identity'
    ? [[s.xDomain[0], s.xDomain[0]], [s.xDomain[1], s.xDomain[1]]]
    : [[s.xDomain[0], 0], [s.xDomain[1], 0]];
  const cx = (s.left + s.right) / 2;
  const cy = (s.top + s.bottom) / 2;
  return (
    <g>
      <defs>
        <clipPath id={s.id}>
          <rect x={s.left} y={s.top} width={s.right - s.left} height={s.bottom - s.top} />
        </clipPath>
      </defs>
      <g clipPath={`url(#${s.id})`}>
        {s.points.map((d, i) => (
          <circle key={i} cx={x(d[0])} cy={y(d[1])} r={1.35} fill="#000" />
        ))}
        <path d={line(refPts) || ''} stroke="#111" strokeWidth={1} fill="none" />
      </g>
      <rect x={s.left} y={s.top} width={s.right - s.left} height={s.bottom - s.top}
        fill="none" stroke="#222" strokeWidth={1} />
      {s.xTicks.map(t => (
        <g key={'x' + t}>
          <line x1={x(t)} x2={x(t)} y1={s.bottom} y2={s.bottom + 7} stroke="#222" />
          <text x={x(t)} y={s.xTickLabelY} textAnchor="middle" dominantBaseline="central"
            fontFamily={FONT} fontSize={FS} fill="#111">{t}</text>
        </g>
      ))}
      {s.yTicks.map(t => (
        <g key={'y' + t}>
          <line x1={s.left - 7} x2={s.left} y1={y(t)} y2={y(t)} stroke="#222" />
          <text transform={`translate(${s.yTickLabelX},${y(t)}) rotate(-90)`} textAnchor="middle"
            dominantBaseline="central" fontFamily={FONT} fontSize={FS} fill="#111">{t}</text>
        </g>
      ))}
      <text x={cx} y={s.xTitleY} textAnchor="middle" dominantBaseline="central"
        fontFamily={FONT} fontSize={FS} fill="#111">{s.xLabel}</text>
      <text transform={`translate(${s.yTitleX},${cy}) rotate(-90)`} textAnchor="middle"
        dominantBaseline="central" fontFamily={FONT} fontSize={FS} fill="#111">{s.yLabel}</text>
    </g>
  );
}

const panels: PanelSpec[] = [
  {
    id: 'c1', left: 57, right: 321, top: 2, bottom: 221,
    xDomain: [-12.6, 339.6], yDomain: [-34.5, 896.5],
    xTicks: concTicks, yTicks: obsTicks,
    xLabel: 'Individual Predicted Concentrations (ng/ml)', yLabel: 'Observed Concentrations(ng/ml)',
    points: ipredObs, ref: 'identity',
    xTickLabelY: 238, xTitleY: 273, yTickLabelX: 35, yTitleX: 8
  },
  {
    id: 'c2', left: 392.3, right: 657.7, top: 2, bottom: 221,
    xDomain: [-12.63, 322.6], yDomain: [-34.5, 896.5],
    xTicks: concTicks, yTicks: obsTicks,
    xLabel: 'Population Predicted Concentrations(ng/ml)', yLabel: 'Observed Concentrations(ng/ml)',
    points: predObs, ref: 'identity',
    xTickLabelY: 238, xTitleY: 273, yTickLabelX: 369, yTitleX: 345.5
  },
  {
    id: 'c3', left: 57, right: 321, top: 293, bottom: 512.5,
    xDomain: [-957, 24883], yDomain: [-2.585, 3.54],
    xTicks: timeTicks, yTicks: cwresTicks,
    xLabel: 'Time(hours)', yLabel: 'Conditional Weighted Residuals',
    points: timeCwres, ref: 'zero',
    xTickLabelY: 534.7, xTitleY: 558, yTickLabelX: 37, yTitleX: 8
  },
  {
    id: 'c4', left: 392.3, right: 657.7, top: 293, bottom: 512.5,
    xDomain: [-12.63, 322.6], yDomain: [-2.585, 3.54],
    xTicks: concTicks, yTicks: cwresTicks,
    xLabel: 'Population Predicted Concentrations(ng/ml)', yLabel: 'Conditional Weighted Residuals',
    points: predCwres, ref: 'zero',
    xTickLabelY: 534.7, xTitleY: 558, yTickLabelX: 370, yTitleX: 346
  }
];

export default function App() {
  return (
    <svg width={660} height={566} viewBox="0 0 660 566"
      style={{ position: 'absolute', left: 0, top: 0, background: '#fff', display: 'block' }}>
      <rect x={0} y={0} width={660} height={566} fill="#fff" />
      {panels.map(p => <Panel key={p.id} s={p} />)}
    </svg>
  );
}
